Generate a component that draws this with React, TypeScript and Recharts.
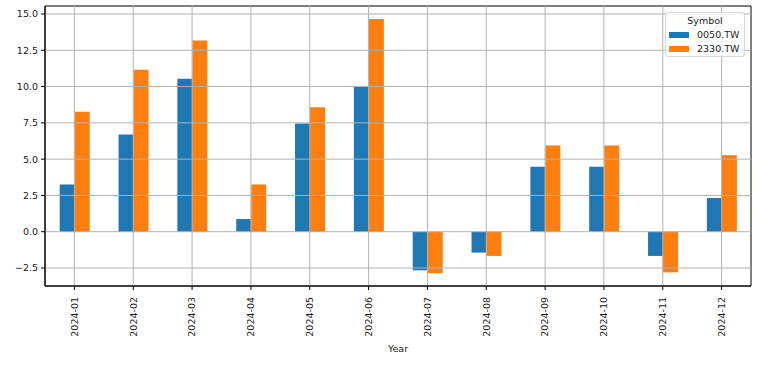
import {
  Bar,
  BarChart,
  Label,
  ReferenceArea,
  ReferenceLine,
  XAxis,
  YAxis,
} from "recharts";

const months = [
  "2024-01", "2024-02", "2024-03", "2024-04", "2024-05", "2024-06",
  "2024-07", "2024-08", "2024-09", "2024-10", "2024-11", "2024-12",
];
const etf0050 = [3.26, 6.7, 10.53, 0.87, 7.46, 9.98, -2.66, -1.44, 4.47, 4.47, -1.67, 2.32];
const tsmc2330 = [8.26, 11.15, 13.17, 3.26, 8.58, 14.66, -2.86, -1.67, 5.94, 5.94, -2.8, 5.26];
const yTicks = [-2.5, 0, 2.5, 5, 7.5, 10, 12.5, 15];
const symbols = ["0050.TW", "2330.TW"];

const Y_MIN = -3.74;
const Y_MAX = 15.55;
const BLUE = "#1f77b4";
const ORANGE = "#ff7f0e";
const GRID = "#b0b0b0";
const FONT = "'DejaVu Sans', sans-serif";

const data = months.map((m, i) => ({
  month: m,
  a: etf0050[i],
  b: tsmc2330[i],
}));

function fmtY(v: number): string {
  const s = Math.abs(v).toFixed(1);
  return v < 0 ? `\u2212${s}` : s;
}

function MonthTick({ x, y, payload }: any) {
  return (
    <g transform={`translate(${x},${y})`}>
      <text
        transform="rotate(-90)"
        x={-5}
        dy="0.35em"
        textAnchor="end"
        fontSize={9.5}
        fill="#1a1a1a"
        fontFamily={FONT}
      >
        {payload.value}
      </text>
    </g>
  );
}

export default function App() {
  return (
    <div style={{ position: "absolute", left: 0, top: 0, width: 780, height: 370, background: "#fff", fontFamily: FONT }}>
      <BarChart
        width={780}
        height={370}
        data={data}
        margin={{ top: 6, right: 29, bottom: 0, left: 0 }}
        barCategoryGap="25%"
        barGap={0}
      >
        <XAxis
          dataKey="month"
          height={84}
          interval={0}
          tick={<MonthTick />}
          tickSize={4}
          tickMargin={2}
          axisLine={{ stroke: "#000", strokeWidth: 1 }}
          tickLine={{ stroke: "#000" }}
        >
          <Label
            value="Year"
            position="insideBottom"
            offset={18}
            style={{ fontSize: 9.5, fill: "#1a1a1a", fontFamily: FONT }}
          />
        </XAxis>
        <YAxis
          width={45}
          type="number"
          domain={[Y_MIN, Y_MAX]}
          ticks={yTicks}
          allowDataOverflow
          interval={0}
          tickFormatter={fmtY}
          tickSize={4}
          tickMargin={3}
          tick={{ fontSize: 9.5, fill: "#1a1a1a", fontFamily: FONT }}
          axisLine={{ stroke: "#000" }}
          tickLine={{ stroke: "#000" }}
        />
        <Bar dataKey="a" name={symbols[0]} fill={BLUE} isAnimationActive={false} />
        <Bar dataKey="b" name={symbols[1]} fill={ORANGE} isAnimationActive={false} />
        {yTicks.map((t) => (
          <ReferenceLine key={`y${t}`} y={t} stroke={GRID} strokeWidth={1} />
        ))}
        {months.map((m) => (
          <ReferenceLine key={`x${m}`} x={m} stroke={GRID} strokeWidth={1} />
        ))}
        <ReferenceArea y1={Y_MIN} y2={Y_MAX} fill="none" fillOpacity={0} stroke="#000" strokeWidth={1} />
      </BarChart>
      <div
        style={{
          position: "absolute",
          left: 665,
          top: 12,
          width: 80,
          height: 45,
          boxSizing: "border-box",
          border: "1px solid #d9d9d9",
          borderRadius: 3,
          background: "rgba(255,255,255,0.8)",
          fontSize: 9.5,
          color: "#1a1a1a",
          lineHeight: "14px",
        }}
      >
        <div style={{ textAlign: "center", marginTop: 1 }}>Symbol</div>
        {symbols.map((s, i) => (
          <div key={s} style={{ display: "flex", alignItems: "center", height: 14 }}>
            <span style={{ display: "inline-block", width: 20, height: 6, marginLeft: 3, marginRight: 8, background: i === 0 ? BLUE : ORANGE }} />
            <span>{s}</span>
          </div>
        ))}
      </div>
    </div>
  );
}
